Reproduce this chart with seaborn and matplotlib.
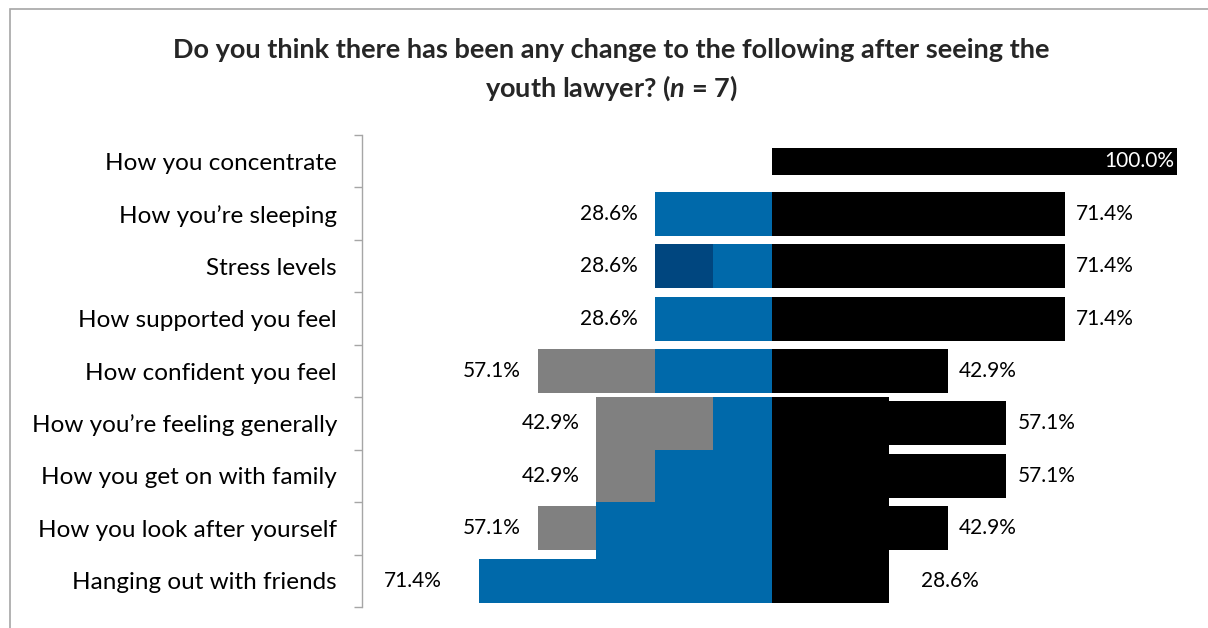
import numpy as np
import pandas as pd
import seaborn as sns
import matplotlib.pyplot as plt
from matplotlib.patches import Rectangle

sns.set_theme(style="white")
plt.rcParams["font.family"] = ["Lato", "DejaVu Sans"]
plt.rcParams["mathtext.fontset"] = "custom"
plt.rcParams["mathtext.it"] = "Lato:italic:bold"
plt.rcParams["mathtext.rm"] = "Lato:bold"

# Survey items, top to bottom
categories = [
    "How you concentrate",
    "How you\u2019re sleeping",
    "Stress levels",
    "How supported you feel",
    "How confident you feel",
    "How you\u2019re feeling generally",
    "How you get on with family",
    "How you look after yourself",
    "Hanging out with friends",
]

# Number of respondents (n = 7) in each response group per item.
# Left side stacks outward: blue, dark blue, grey; right side is black.
n_resp = 7
blue_n = [0, 2, 1, 2, 2, 1, 2, 3, 5]
dark_blue_n = [0, 0, 1, 0, 0, 0, 0, 0, 0]
grey_n = [0, 0, 0, 0, 2, 2, 1, 1, 0]
black_n = [7, 5, 5, 5, 3, 4, 4, 3, 2]

C_BLUE = "#0069AA"
C_DARK = "#00467F"
C_GREY = "#808080"
C_BLACK = "#000000"

df = pd.DataFrame({
    "item": categories,
    "blue": np.array(blue_n) / n_resp * 100,
    "dark": np.array(dark_blue_n) / n_resp * 100,
    "grey": np.array(grey_n) / n_resp * 100,
    "black": np.array(black_n) / n_resp * 100,
})
df["left_blue"] = -df["blue"]
df["left_dark"] = -(df["blue"] + df["dark"])
df["left_total"] = -(df["blue"] + df["dark"] + df["grey"])

fig = plt.figure(figsize=(12.08, 6.28), dpi=100)
ax = fig.add_axes([362 / 1208, 21 / 628, 815 / 1208, 472 / 628])

BAR_H = 0.84
FULL_BAR_H = 0.52  # the 100% bar is drawn slimmer
layers = [("left_total", C_GREY), ("left_dark", C_DARK), ("left_blue", C_BLUE), ("black", C_BLACK)]
for col, colour in layers:
    sns.barplot(data=df, x=col, y="item", order=categories, orient="h",
                color=colour, width=BAR_H, saturation=1, linewidth=0,
                edgecolor="none", ax=ax, zorder=2)

# slim down the full-width bar
for bar in ax.containers[-1]:
    if bar.get_width() >= 100:
        yc = bar.get_y() + bar.get_height() / 2
        bar.set_height(FULL_BAR_H)
        bar.set_y(yc - FULL_BAR_H / 2)

# Lower block of items drawn as one merged band around the centre line
merge_rows = [5, 6, 7, 8]
merge_lo, merge_hi = -3 / n_resp * 100, 2 / n_resp * 100
for i in merge_rows:
    top = i - 0.5
    bottom = i + 0.5 if i != merge_rows[-1] else i + BAR_H / 2
    segs = [
        (df["left_total"][i], df["left_dark"][i], C_GREY),
        (df["left_dark"][i], df["left_blue"][i], C_DARK),
        (df["left_blue"][i], 0.0, C_BLUE),
        (0.0, df["black"][i], C_BLACK),
    ]
    for a, b, colour in segs:
        a2, b2 = max(a, merge_lo), min(b, merge_hi)
        if b2 > a2:
            ax.barh(y=(top + bottom) / 2, width=b2 - a2, left=a2,
                    height=bottom - top, color=colour, linewidth=0, zorder=3)

# Value labels (the last item's labels sit a little further out)
FS = 15
label_pad = [12, 12, 12, 12, 12, 12, 12, 12, 27]
for i in range(len(categories)):
    lt = -df["left_total"][i]
    rt = df["black"][i]
    if lt > 0:
        ax.annotate(f"{lt:.1f}%", xy=(-lt, i), xytext=(-label_pad[i], 0),
                    textcoords="offset points", ha="right", va="center",
                    fontsize=FS, color="black")
    if rt >= 100:
        ax.annotate(f"{rt:.1f}%", xy=(1, i), xycoords=("axes fraction", "data"),
                    xytext=(-2, 0), textcoords="offset points", ha="right",
                    va="center", fontsize=FS, color="white", zorder=5)
    else:
        ax.annotate(f"{rt:.1f}%", xy=(rt, i), xytext=(label_pad[i] - 4, 0),
                    textcoords="offset points", ha="left", va="center",
                    fontsize=FS, color="black")

ax.set_xlim(-100, 98.8)
ax.set_ylim(len(categories) - 0.5, -0.5)
ax.set_xlabel("")
ax.set_ylabel("")
ax.set_xticks([])

# Category axis: ticks on the boundaries between items
ax.set_yticks(np.arange(len(categories) + 1) - 0.5, minor=False)
ax.set_yticklabels([])
ax.set_yticks(np.arange(len(categories)), minor=True)
ax.set_yticklabels(categories, minor=True, fontsize=17.5)
ax.tick_params(axis="y", which="major", length=6, width=1, color="#A6A6A6", left=True)
ax.tick_params(axis="y", which="minor", length=0, pad=18, labelcolor="black")
for s in ["top", "right", "bottom"]:
    ax.spines[s].set_visible(False)
ax.spines["left"].set_color("#A6A6A6")
ax.spines["left"].set_linewidth(1)

fig.text(0.506, 0.920, "Do you think there has been any change to the following after seeing the",
         ha="center", va="center", fontsize=19.5, fontweight="bold")
fig.text(0.506, 0.860, r"youth lawyer? ($\mathit{n}$ = 7)",
         ha="center", va="center", fontsize=19.5, fontweight="bold")

# Chart frame
fig.patches.append(Rectangle((10 / 1208, -0.1), 1.2, 1 - 9 / 628 + 0.1,
                             transform=fig.transFigure, fill=False,
                             edgecolor="#A6A6A6", linewidth=1.2))

fig.savefig("out.png", dpi=100, facecolor="white")
